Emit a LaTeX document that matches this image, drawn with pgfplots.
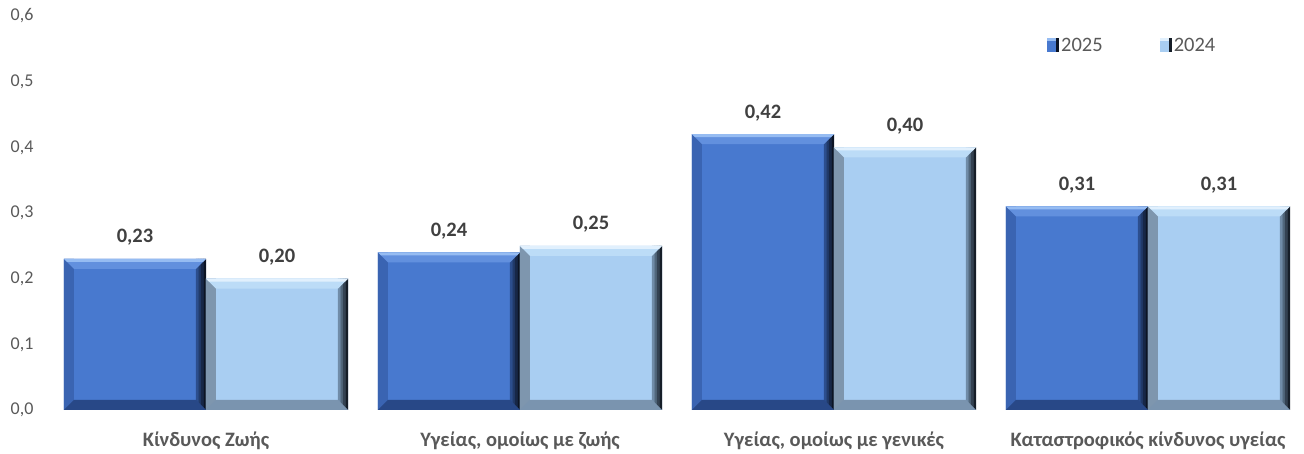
\documentclass[border=0pt]{standalone}
\usepackage{pgfplots}
\usepackage{pgfplotstable}
\pgfplotsset{compat=1.18}
\usepackage{fontspec}
\setmainfont{Carlito}

% bar body and bevel colours
\definecolor{dkbase}{RGB}{72,121,207}
\definecolor{dkT1}{RGB}{150,188,242}
\definecolor{dkT2}{RGB}{98,144,222}
\definecolor{dkL}{RGB}{58,100,178}
\definecolor{dkB}{RGB}{40,72,135}
\definecolor{dkR1}{RGB}{44,78,142}
\definecolor{dkR2}{RGB}{12,20,36}

\definecolor{ltbase}{RGB}{169,206,242}
\definecolor{ltT1}{RGB}{225,240,253}
\definecolor{ltT2}{RGB}{188,220,247}
\definecolor{ltL}{RGB}{126,150,174}
\definecolor{ltB}{RGB}{122,148,175}
\definecolor{ltR1}{RGB}{112,140,168}
\definecolor{ltR2}{RGB}{22,30,40}

\definecolor{ticktext}{RGB}{89,89,89}
\definecolor{valtext}{RGB}{64,64,64}

% bevel caps: top face sits at the bar's value, bottom face at the baseline
\pgfdeclareplotmark{dktop}{%
  \pgfpathmoveto{\pgfpoint{-142pt}{0pt}}\pgfpathlineto{\pgfpoint{0pt}{0pt}}%
  \pgfpathlineto{\pgfpoint{-10pt}{-10pt}}\pgfpathlineto{\pgfpoint{-132pt}{-10pt}}\pgfpathclose
  \pgfsetfillcolor{dkT2}\pgfusepathqfill
  \pgfpathmoveto{\pgfpoint{-142pt}{0pt}}\pgfpathlineto{\pgfpoint{0pt}{0pt}}%
  \pgfpathlineto{\pgfpoint{-3pt}{-3pt}}\pgfpathlineto{\pgfpoint{-139pt}{-3pt}}\pgfpathclose
  \pgfsetfillcolor{dkT1}\pgfusepathqfill}
\pgfdeclareplotmark{dkbot}{%
  \pgfpathmoveto{\pgfpoint{-142pt}{0pt}}\pgfpathlineto{\pgfpoint{0pt}{0pt}}%
  \pgfpathlineto{\pgfpoint{-10pt}{10pt}}\pgfpathlineto{\pgfpoint{-132pt}{10pt}}\pgfpathclose
  \pgfsetfillcolor{dkB}\pgfusepathqfill}
\pgfdeclareplotmark{lttop}{%
  \pgfpathmoveto{\pgfpoint{0pt}{0pt}}\pgfpathlineto{\pgfpoint{142pt}{0pt}}%
  \pgfpathlineto{\pgfpoint{132pt}{-10pt}}\pgfpathlineto{\pgfpoint{10pt}{-10pt}}\pgfpathclose
  \pgfsetfillcolor{ltT2}\pgfusepathqfill
  \pgfpathmoveto{\pgfpoint{0pt}{0pt}}\pgfpathlineto{\pgfpoint{142pt}{0pt}}%
  \pgfpathlineto{\pgfpoint{139pt}{-3pt}}\pgfpathlineto{\pgfpoint{3pt}{-3pt}}\pgfpathclose
  \pgfsetfillcolor{ltT1}\pgfusepathqfill}
\pgfdeclareplotmark{ltbot}{%
  \pgfpathmoveto{\pgfpoint{0pt}{0pt}}\pgfpathlineto{\pgfpoint{142pt}{0pt}}%
  \pgfpathlineto{\pgfpoint{132pt}{10pt}}\pgfpathlineto{\pgfpoint{10pt}{10pt}}\pgfpathclose
  \pgfsetfillcolor{ltB}\pgfusepathqfill}

\pgfplotstableread{
x   a     b     z
0   0.23  0.20  0
1   0.24  0.25  0
2   0.42  0.40  0
3   0.31  0.31  0
}\ratios

\begin{document}
\begin{tikzpicture}
\useasboundingbox (0,0) rectangle (1304pt,454pt);
\begin{axis}[
  at={(49pt,44pt)}, anchor=south west,
  scale only axis, width=1256pt, height=394pt,
  xmin=-0.5, xmax=3.5, ymin=0, ymax=0.6,
  axis line style={draw=none}, major tick style={draw=none},
  xtick={0,1,2,3},
  xticklabels={Κίνδυνος Ζωής, {Υγείας, ομοίως με ζωής}, {Υγείας, ομοίως με γενικές}, Καταστροφικός κίνδυνος υγείας},
  xticklabel style={font=\fontsize{20.5}{20.5}\bfseries\selectfont, text=ticktext, anchor=base, yshift=-37pt},
  ytick={0,0.1,0.2,0.3,0.4,0.5,0.6},
  yticklabel style={/pgf/number format/.cd, fixed, fixed zerofill, precision=1, use comma, assume math mode=true,
    /tikz/.cd, font=\fontsize{18}{18}\selectfont, text=ticktext, xshift=-12pt},
  nodes near coords style={/pgf/number format/.cd, fixed, fixed zerofill, precision=2, use comma, assume math mode=true,
    /tikz/.cd, font=\fontsize{20.5}{20.5}\bfseries\selectfont, text=valtext, anchor=base, yshift=16pt},
  legend columns=2,
  legend style={draw=none, fill=none, at={(0.7922,0.955)}, anchor=north west,
    font=\fontsize{20.5}{20.5}\selectfont, text=ticktext,
    /tikz/every even column/.append style={column sep=55pt}},
  strip/.style={ybar, bar width=2.8pt, draw=none, forget plot},
]
% 2025
\addplot[ybar, bar width=142pt, bar shift=-71pt, fill=dkbase, draw=none, nodes near coords,
  every node near coord/.append style={/tikz/xshift=-71pt},
  legend image code/.code={\fill[dkbase] (0pt,-7pt) rectangle (12pt,7pt);
    \fill[dkT1] (0pt,4pt) rectangle (12pt,7pt); \fill[dkR2] (9pt,-7pt) rectangle (12pt,7pt);}]
  table[x=x, y=a] {\ratios};
\addplot[ybar, bar width=10pt, bar shift=-137pt, fill=dkL, draw=none, forget plot] table[x=x, y=a] {\ratios};
\addplot[strip, bar shift=-8.75pt, fill=dkR1] table[x=x, y=a] {\ratios};
\addplot[strip, bar shift=-6.25pt, fill=dkR1!66!dkR2] table[x=x, y=a] {\ratios};
\addplot[strip, bar shift=-3.75pt, fill=dkR1!33!dkR2] table[x=x, y=a] {\ratios};
\addplot[strip, bar shift=-1.25pt, fill=dkR2] table[x=x, y=a] {\ratios};
\addplot[only marks, mark=dktop, forget plot] table[x=x, y=a] {\ratios};
\addplot[only marks, mark=dkbot, forget plot] table[x=x, y=z] {\ratios};
% 2024
\addplot[ybar, bar width=142pt, bar shift=71pt, fill=ltbase, draw=none, nodes near coords,
  every node near coord/.append style={/tikz/xshift=71pt},
  legend image code/.code={\fill[ltbase] (0pt,-7pt) rectangle (12pt,7pt);
    \fill[ltT1] (0pt,4pt) rectangle (12pt,7pt); \fill[ltR2] (9pt,-7pt) rectangle (12pt,7pt);}]
  table[x=x, y=b] {\ratios};
\addplot[ybar, bar width=10pt, bar shift=5pt, fill=ltL, draw=none, forget plot] table[x=x, y=b] {\ratios};
\addplot[strip, bar shift=133.25pt, fill=ltR1] table[x=x, y=b] {\ratios};
\addplot[strip, bar shift=135.75pt, fill=ltR1!66!ltR2] table[x=x, y=b] {\ratios};
\addplot[strip, bar shift=138.25pt, fill=ltR1!33!ltR2] table[x=x, y=b] {\ratios};
\addplot[strip, bar shift=140.75pt, fill=ltR2] table[x=x, y=b] {\ratios};
\addplot[only marks, mark=lttop, forget plot] table[x=x, y=b] {\ratios};
\addplot[only marks, mark=ltbot, forget plot] table[x=x, y=z] {\ratios};
\legend{2025,2024}
\end{axis}
\end{tikzpicture}
\end{document}
